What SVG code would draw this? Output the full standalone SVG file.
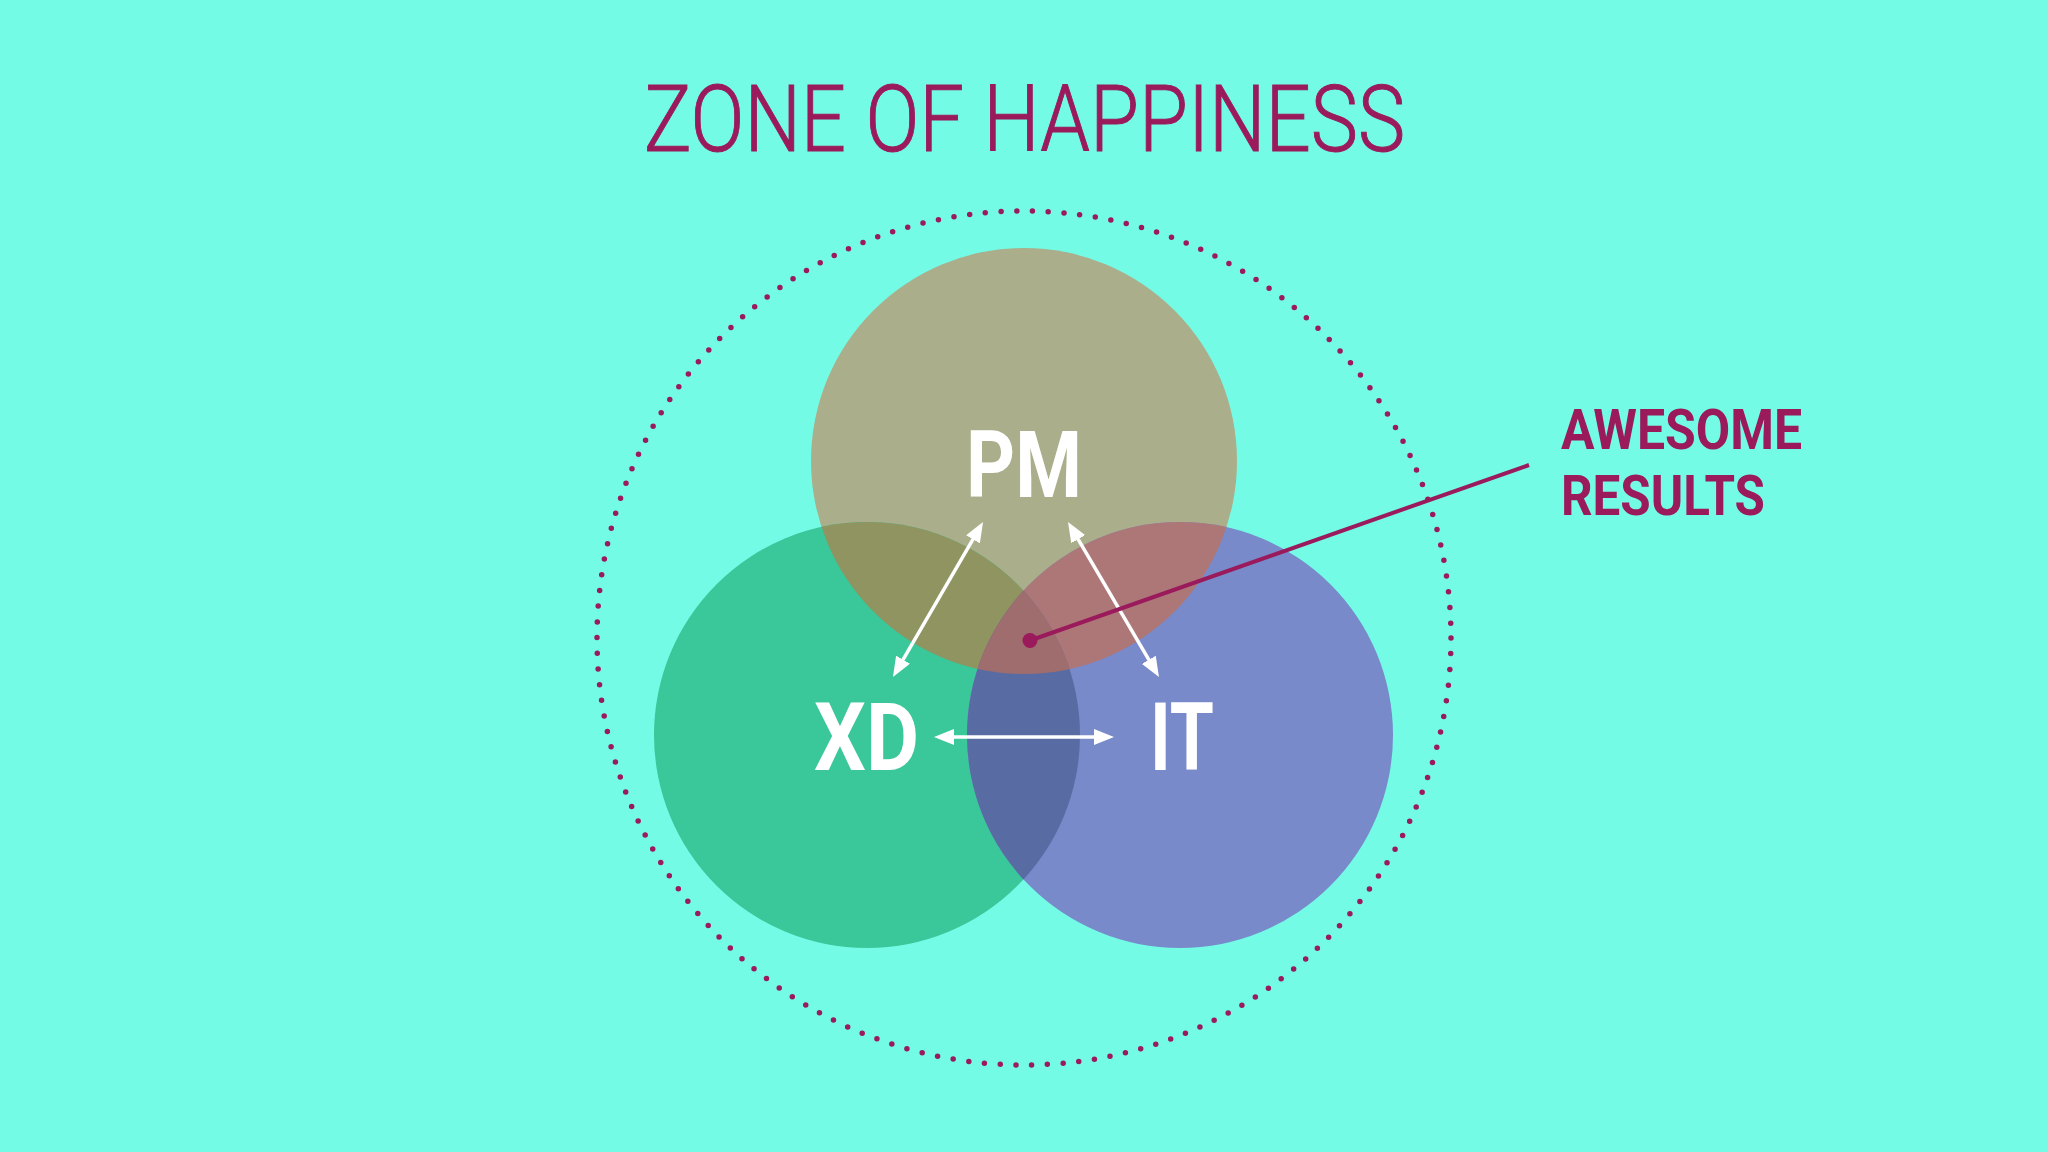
<svg xmlns="http://www.w3.org/2000/svg" width="2048" height="1152" viewBox="0 0 2048 1152">
  <defs>
    <style>
      .title { font-family: Roboto, "Liberation Sans", sans-serif; font-weight: 300; font-size: 92px; fill: #9A1A5C; }
      .lbl { font-family: Roboto, "Liberation Sans", sans-serif; font-weight: 700; fill: #FFFFFF; }
      .call { font-family: Roboto, "Liberation Sans", sans-serif; font-weight: 700; font-size: 56px; fill: #9A1A5C; }
      .arrow { stroke: #FFFFFF; stroke-width: 3.5; fill: none; marker-start: url(#head); marker-end: url(#head); }
    </style>
    <marker id="head" viewBox="0 0 20 16" markerWidth="20" markerHeight="16" refX="8" refY="8" markerUnits="userSpaceOnUse" orient="auto-start-reverse">
      <path d="M0,0 L20,8 L0,16 z" fill="#FFFFFF"/>
    </marker>
    <clipPath id="cPM"><circle cx="1024" cy="461" r="213"/></clipPath>
    <clipPath id="cXD"><circle cx="867" cy="735" r="213"/></clipPath>
    <clipPath id="cIT"><circle cx="1180" cy="735" r="213"/></clipPath>
  </defs>
  <rect width="2048" height="1152" fill="#74FBE6"/>

  <text class="title" x="644" y="151" textLength="761" lengthAdjust="spacingAndGlyphs" stroke="#9A1A5C" stroke-width="1">ZONE OF HAPPINESS</text>

  <circle id="zone" cx="1024" cy="638" r="427" fill="none" stroke="#9A1A5C" stroke-width="5.5" stroke-linecap="round" stroke-dasharray="0 15.783"/>

  <g id="node-pm">
    <circle cx="1024" cy="461" r="213" fill="#ABAE8B"/>
  </g>
  <g id="node-xd">
    <circle cx="867" cy="735" r="213" fill="#3AC79A"/>
  </g>
  <g id="node-it">
    <circle cx="1180" cy="735" r="213" fill="#788ACA"/>
  </g>
  <g id="overlaps">
    <circle cx="867" cy="735" r="213" fill="#8F9461" clip-path="url(#cPM)"/>
    <circle cx="1180" cy="735" r="213" fill="#AD7778" clip-path="url(#cPM)"/>
    <circle cx="1180" cy="735" r="213" fill="#596BA3" clip-path="url(#cXD)"/>
    <g clip-path="url(#cXD)">
      <circle cx="1024" cy="461" r="213" fill="#9F6D6D" clip-path="url(#cIT)"/>
    </g>
  </g>

  <g id="labels">
    <text class="lbl" x="966" y="497" font-size="92" textLength="116" lengthAdjust="spacingAndGlyphs">PM</text>
    <text class="lbl" x="814" y="770" font-size="94" textLength="105" lengthAdjust="spacingAndGlyphs">XD</text>
    <text class="lbl" x="1150" y="770" font-size="94" textLength="64" lengthAdjust="spacingAndGlyphs">IT</text>
  </g>

  <g id="connectors">
    <line class="arrow" x1="977" y1="532.4" x2="899" y2="666.6"/>
    <line class="arrow" x1="1074.1" y1="532.3" x2="1152.9" y2="666.7"/>
    <line class="arrow" x1="946" y1="737" x2="1102" y2="737"/>
    <line x1="1030" y1="640.5" x2="1529" y2="465" stroke="#9A1A5C" stroke-width="4"/>
    <circle cx="1030" cy="640.5" r="7.5" fill="#9A1A5C"/>
  </g>

  <g id="callout">
    <text class="call" x="1561" y="449" textLength="241" lengthAdjust="spacingAndGlyphs">AWESOME</text>
    <text class="call" x="1561" y="515" textLength="204" lengthAdjust="spacingAndGlyphs">RESULTS</text>
  </g>
</svg>
